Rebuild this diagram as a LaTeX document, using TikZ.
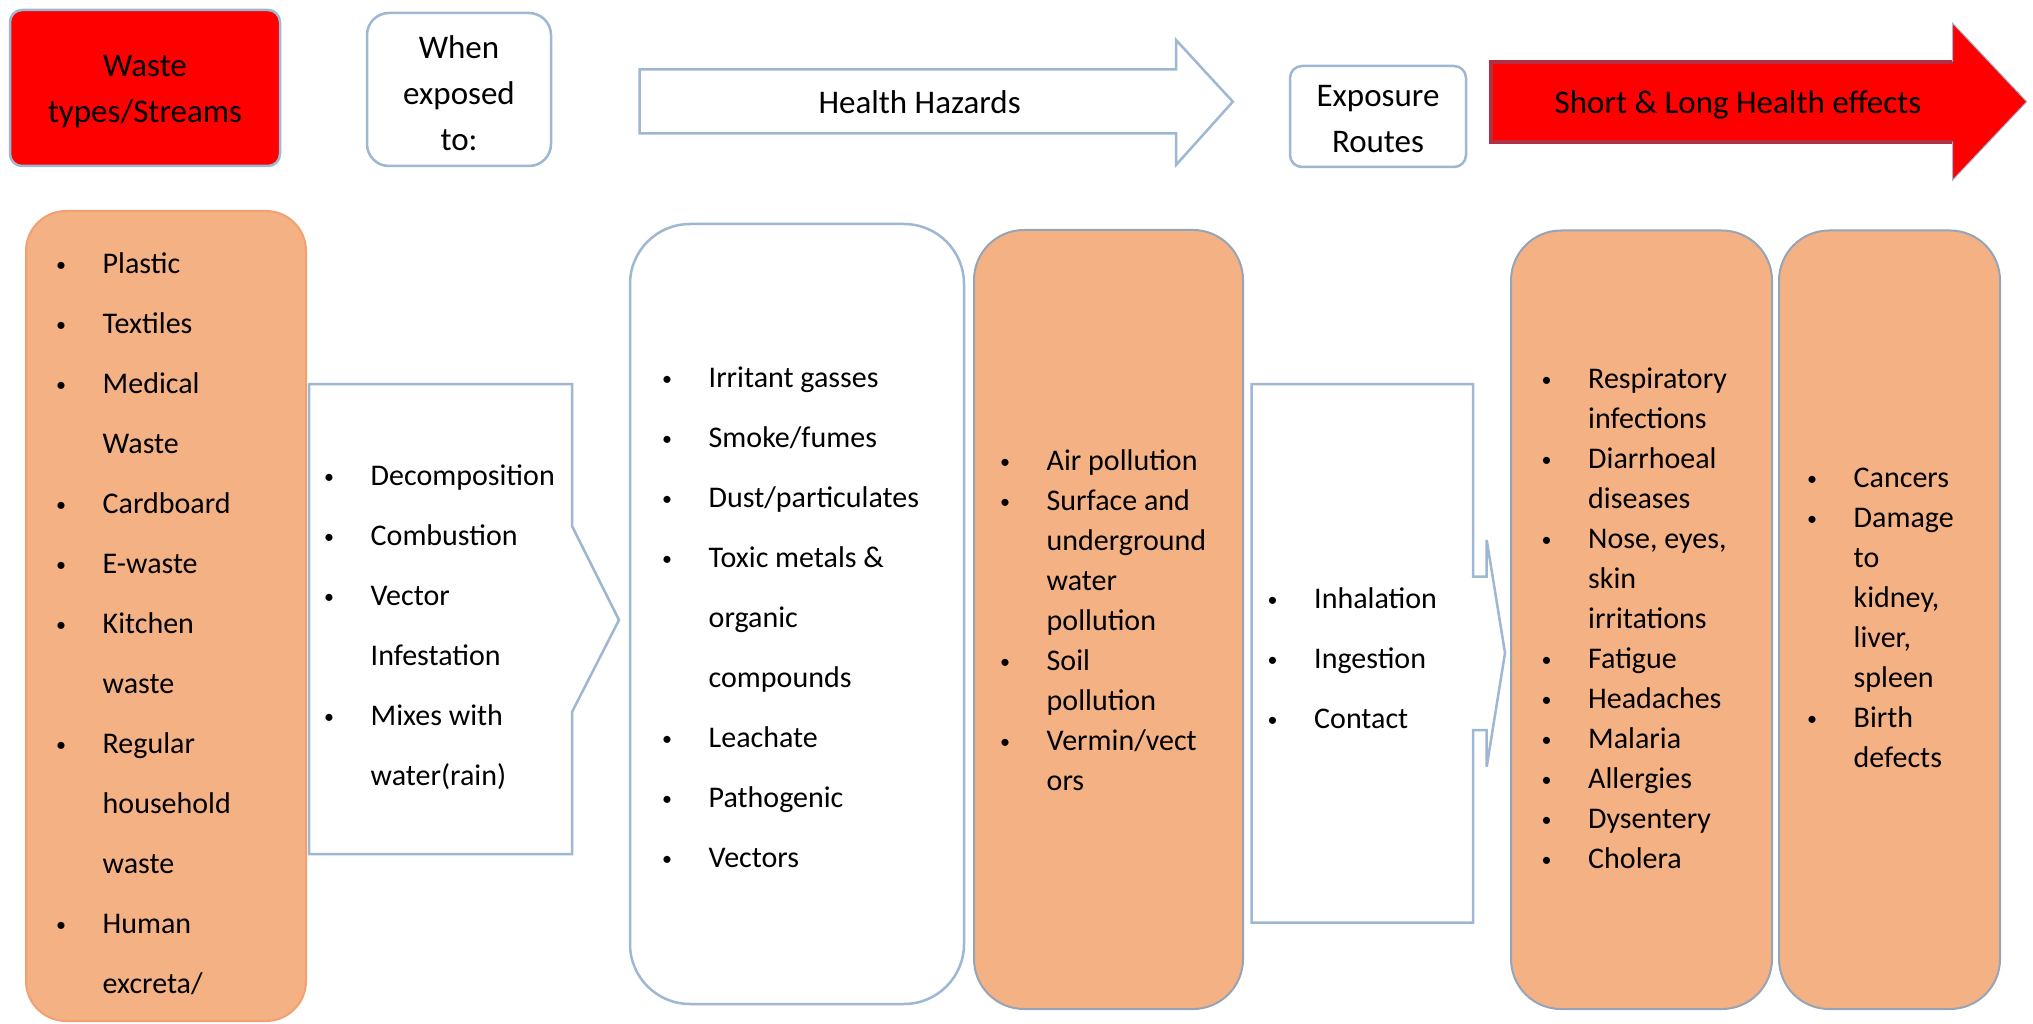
\documentclass[tikz,border=0pt]{standalone}
\usepackage{fontspec}
\setmainfont{Carlito}
\definecolor{wtred}{RGB}{255, 0, 0}
\definecolor{wtpeach}{RGB}{244, 177, 131}
\definecolor{wtedge}{RGB}{158, 183, 210}
\definecolor{wtorange}{RGB}{241, 160, 112}
\definecolor{wtgray}{RGB}{150, 164, 184}
\definecolor{wtdark}{RGB}{178, 48, 68}

\newcommand{\smallbul}{\hspace*{2.5pt}\raisebox{2pt}{\fontsize{20}{20}\selectfont\textbullet}}
\newcommand{\bitem}[1]{\makebox[49pt][l]{\smallbul}#1}
\newcommand{\bcont}[1]{\hspace*{49pt}#1}

\begin{document}
\begin{tikzpicture}[x=1pt, y=-1pt,
    edge/.style={draw=wtedge, line width=2.5pt},
    headbox/.style={edge, inner sep=0pt},
    headtxt/.style={font=\fontsize{33}{40}\selectfont, inner sep=0pt},
    headlines/.style={headtxt, align=center, font=\fontsize{33}{46}\selectfont},
    listtxt/.style={anchor=west, align=left, inner sep=0pt,
                    font=\fontsize{30}{60}\selectfont},
    tightlist/.style={listtxt, font=\fontsize{30}{40}\selectfont},
    peachbox/.style={fill=wtpeach, draw=wtgray, line width=2pt,
                     rounded corners=50pt},
]
\useasboundingbox (0,0) rectangle (2033,1024);

% ================================================================
% TOP ROW: headings and arrows
% ================================================================
\node[headbox, fill=wtred, rounded corners=12pt,
      minimum width=270pt, minimum height=156pt]
  (wastehead) at (145,88) {};
\node[headlines] (wastelabel) at (145,92) {Waste\\types/Streams};

\node[headbox, fill=white, rounded corners=22pt,
      minimum width=184pt, minimum height=153pt]
  (exposedhead) at (459,89.5) {};
\node[headlines] (exposedlabel) at (459,93.5) {When\\exposed\\to:};

% block arrow: health hazards
\draw[edge, fill=white]
  (639.5,69.3) -- (1176,69.3) -- (1176,40) -- (1232.8,101.7)
  -- (1176,165) -- (1176,133.3) -- (639.5,133.3) -- cycle;
\node[headtxt] (hazardhead) at (919.6,102) {Health Hazards};

\node[headbox, fill=white, rounded corners=12pt,
      minimum width=176pt, minimum height=101pt]
  (routehead) at (1378,116.5) {};
\node[headlines] (routelabel) at (1378,119.5) {Exposure\\Routes};

% block arrow: health effects
\fill[wtred]
  (1490.6,61.7) -- (1952.7,61.7) -- (1952.7,23.3) -- (2026.7,101.7)
  -- (1952.7,180) -- (1952.7,141.7) -- (1490.6,141.7) -- cycle;
\draw[wtdark, line width=4pt]
  (1952.7,61.7) -- (1490.6,61.7) -- (1490.6,141.7) -- (1952.7,141.7);
\draw[wtedge, line width=1pt]
  (1952.7,61.7) -- (1952.7,23.3) -- (2026.7,101.7)
  -- (1952.7,180) -- (1952.7,141.7);
\node[headtxt] (effecthead) at (1738,105) {Short \& Long Health effects};

% ================================================================
% BOTTOM ROW: boxes
% ================================================================
\draw[fill=wtpeach, draw=wtorange, line width=2pt, rounded corners=40pt]
  (26,211) rectangle (306,1021);

% callout with chevron (exposure processes)
\draw[edge, fill=white]
  (309,384) -- (572,384) -- (572,526) -- (619,620)
  -- (572,712) -- (572,854) -- (309,854) -- cycle;

\draw[edge, fill=white, rounded corners=60pt]
  (630,224) rectangle (964,1004);

\draw[peachbox] (974,230) rectangle (1243,1009);

% callout with arrow (routes)
\draw[edge, fill=white]
  (1251.5,384) -- (1473,384) -- (1473,576.7) -- (1486.7,576.7)
  -- (1486.7,540) -- (1505,653) -- (1486.7,766.7) -- (1486.7,730)
  -- (1473,730) -- (1473,922.5) -- (1251.5,922.5) -- cycle;

\draw[peachbox] (1511,230.5) rectangle (1772,1009);
\draw[peachbox] (1779,230.5) rectangle (2000,1009);

% ================================================================
% LIST TEXTS
% ================================================================
\node[listtxt] (wastelist) at (53.5,624) {%
  \bitem{Plastic}\\ \bitem{Textiles}\\ \bitem{Medical}\\ \bcont{Waste}\\
  \bitem{Cardboard}\\ \bitem{E-waste}\\ \bitem{Kitchen}\\ \bcont{waste}\\
  \bitem{Regular}\\ \bcont{household}\\ \bcont{waste}\\
  \bitem{Human}\\ \bcont{excreta/}};

\node[listtxt] (exposedlist) at (321.5,627) {%
  \bitem{Decomposition}\\ \bitem{Combustion}\\ \bitem{Vector}\\
  \bcont{Infestation}\\ \bitem{Mixes with}\\ \bcont{water(rain)}};

\node[listtxt] (hazardlist) at (659.5,617) {%
  \bitem{Irritant gasses}\\ \bitem{Smoke/fumes}\\ \bitem{Dust/particulates}\\
  \bitem{Toxic metals \&}\\ \bcont{organic}\\ \bcont{compounds}\\
  \bitem{Leachate}\\ \bitem{Pathogenic}\\ \bitem{Vectors}};

\node[tightlist] (pollutionlist) at (997.5,620) {%
  \bitem{Air pollution}\\ \bitem{Surface and}\\ \bcont{underground}\\
  \bcont{water}\\ \bcont{pollution}\\ \bitem{Soil}\\ \bcont{pollution}\\
  \bitem{Vermin/vect}\\ \bcont{ors}};

\node[listtxt] (routelist) at (1265,658) {%
  \bitem{Inhalation}\\ \bitem{Ingestion}\\ \bitem{Contact}};

\node[tightlist] (shortlist) at (1539,618) {%
  \bitem{Respiratory}\\ \bcont{infections}\\ \bitem{Diarrhoeal}\\
  \bcont{diseases}\\ \bitem{Nose, eyes,}\\ \bcont{skin}\\ \bcont{irritations}\\
  \bitem{Fatigue}\\ \bitem{Headaches}\\ \bitem{Malaria}\\
  \bitem{Allergies}\\ \bitem{Dysentery}\\ \bitem{Cholera}};

\node[tightlist] (longlist) at (1804.5,618) {%
  \bitem{Cancers}\\ \bitem{Damage}\\ \bcont{to}\\ \bcont{kidney,}\\
  \bcont{liver,}\\ \bcont{spleen}\\ \bitem{Birth}\\ \bcont{defects}};

\end{tikzpicture}
\end{document}
